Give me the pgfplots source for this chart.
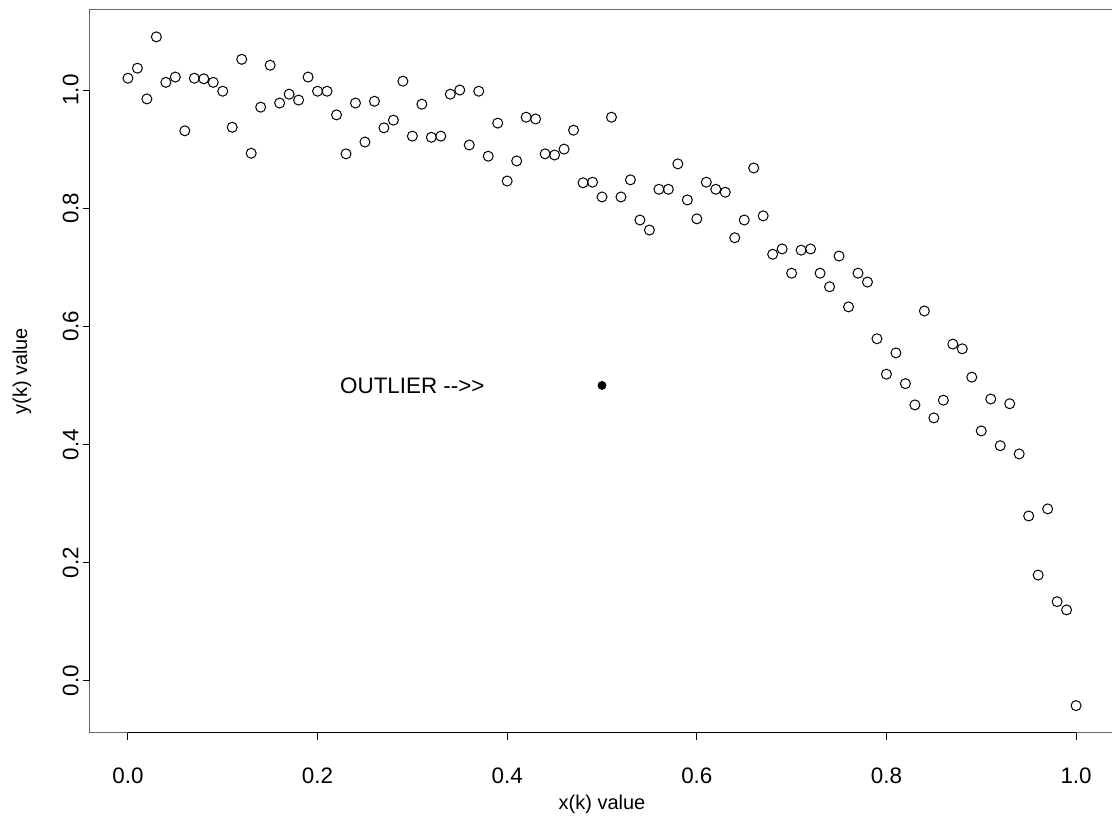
\documentclass[border=0pt]{standalone}
\usepackage{fontspec}
\setmainfont{Liberation Sans}
\usepackage{pgfplots}
\pgfplotsset{compat=1.18}
\begin{document}
\begin{tikzpicture}
\begin{axis}[
  name=ax,
  scale only axis,
  width=512pt, height=361.25pt,
  xmin=-0.04, xmax=1.04,
  ymin=-0.0875, ymax=1.1355,
  axis line style={black!60, line width=0.5pt},
  tick align=outside,
  major tick length=3.5pt,
  tick style={black, line width=0.5pt},
  xtick={0,0.2,0.4,0.6,0.8,1.0},
  ytick={0,0.2,0.4,0.6,0.8,1.0},
  xtick pos=bottom, ytick pos=left,
  /pgf/number format/assume math mode=true,
  /pgf/number format/.cd, fixed, fixed zerofill, precision=1, /pgfplots/.cd,
  tick label style={font=\fontsize{11.2}{13}\selectfont, inner sep=0pt},
  xticklabel style={anchor=north, yshift=-14pt},
  yticklabel style={rotate=90, anchor=south, yshift=2pt},
  label style={font=\fontsize{11.2}{13}\selectfont},
  xlabel={x(k) value},
  ylabel={y(k) value},
  every axis x label/.style={at={(axis description cs:0.5,-0.0997)}, anchor=center},
  every axis y label/.style={at={(axis description cs:-0.0664,0.5)}, anchor=center, rotate=90},
  clip=false,
]
\draw[black, line width=0.5pt] (axis cs:0,-0.0875) -- (axis cs:1,-0.0875);
\draw[black, line width=0.5pt] (axis cs:-0.04,0) -- (axis cs:-0.04,1);
\addplot[only marks, mark=o, mark size=2.5pt, mark options={line width=0.5pt, black}] coordinates {
(0.00,1.020) (0.01,1.037) (0.02,0.985) (0.03,1.090) (0.04,1.013) (0.05,1.022) (0.06,0.931) (0.07,1.020) (0.08,1.019) (0.09,1.013)
(0.10,0.998) (0.11,0.937) (0.12,1.052) (0.13,0.893) (0.14,0.971) (0.15,1.042) (0.16,0.978) (0.17,0.993) (0.18,0.983) (0.19,1.022)
(0.20,0.998) (0.21,0.998) (0.22,0.958) (0.23,0.892) (0.24,0.978) (0.25,0.912) (0.26,0.981) (0.27,0.936) (0.28,0.949) (0.29,1.015)
(0.30,0.922) (0.31,0.976) (0.32,0.920) (0.33,0.922) (0.34,0.993) (0.35,1.000) (0.36,0.907) (0.37,0.998) (0.38,0.888) (0.39,0.944)
(0.40,0.846) (0.41,0.880) (0.42,0.954) (0.43,0.951) (0.44,0.892) (0.45,0.890) (0.46,0.900) (0.47,0.932) (0.48,0.843) (0.49,0.844)
(0.50,0.819) (0.51,0.954) (0.52,0.819) (0.53,0.848) (0.54,0.780) (0.55,0.763) (0.56,0.832) (0.57,0.832) (0.58,0.875) (0.59,0.814)
(0.60,0.782) (0.61,0.844) (0.62,0.832) (0.63,0.827) (0.64,0.750) (0.65,0.780) (0.66,0.868) (0.67,0.787) (0.68,0.722) (0.69,0.731)
(0.70,0.690) (0.71,0.729) (0.72,0.731) (0.73,0.690) (0.74,0.667) (0.75,0.719) (0.76,0.633) (0.77,0.690) (0.78,0.675) (0.79,0.579)
(0.80,0.519) (0.81,0.555) (0.82,0.503) (0.83,0.467) (0.84,0.626) (0.85,0.445) (0.86,0.475) (0.87,0.570) (0.88,0.562) (0.89,0.514)
(0.90,0.423) (0.91,0.477) (0.92,0.398) (0.93,0.469) (0.94,0.384) (0.95,0.279) (0.96,0.179) (0.97,0.291) (0.98,0.134) (0.99,0.120)
(1.00,-0.042)
};
\addplot[only marks, mark=*, mark size=2pt, mark options={black, fill=black}] coordinates {(0.5,0.5)};
\node[font=\fontsize{11.2}{13}\selectfont, anchor=center] at (axis cs:0.3,0.5) {OUTLIER -{}->{}>};
\end{axis}
\pgfresetboundingbox
\path[use as bounding box] ([xshift=-45pt,yshift=-42.75pt]ax.south west) rectangle ([xshift=511pt,yshift=5pt]ax.north west);
\end{tikzpicture}
\end{document}
